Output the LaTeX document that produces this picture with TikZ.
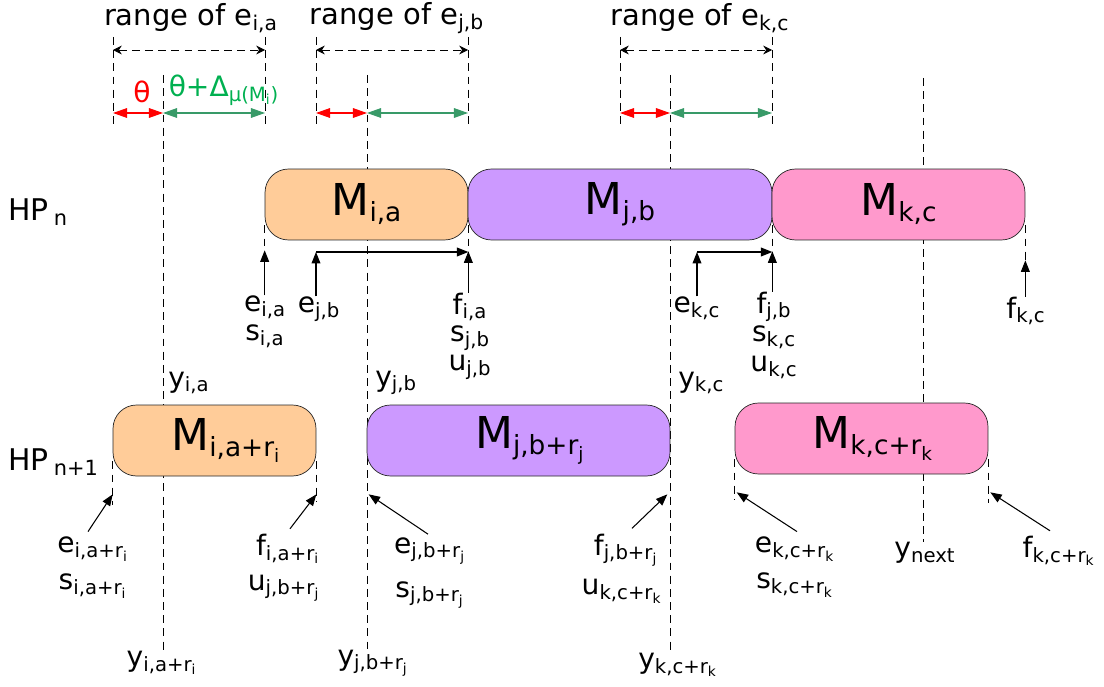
\documentclass[tikz,border=0pt]{standalone}
\usepackage{fontspec}
\setmainfont{DejaVu Sans}
\usetikzlibrary{arrows.meta, positioning}
\usepackage{xcolor}
\definecolor{opOrange}{RGB}{255, 204, 153}
\definecolor{opPurple}{RGB}{204, 153, 255}
\definecolor{opPink}{RGB}{255, 153, 204}
\definecolor{deltaGreen}{RGB}{56, 154, 104}
\definecolor{textGreen}{RGB}{0, 176, 80}
\newcommand{\sbs}[1]{\textsubscript{#1}}
\newcommand{\opsbs}[1]{\raisebox{-0.25ex}{\fontsize{15}{15}\selectfont #1}}

\begin{document}
\begin{tikzpicture}[
        x=0.02cm, y=-0.02cm,
        opNode/.style={rectangle, draw=black!85, fill=#1, rounded corners=0.47cm, minimum height=1.42cm, inner sep=0pt, font=\fontsize{25}{28}\selectfont},
        lblNode/.style={inner sep=0pt, font=\fontsize{16}{18}\selectfont},
        rangeNode/.style={inner sep=0pt, font=\fontsize{16.5}{18}\selectfont},
        hpNode/.style={inner sep=0pt, font=\fontsize{17}{19}\selectfont},
        guideLine/.style={line width=0.5pt, dash pattern=on 4.5pt off 3pt},
        ptrArrow/.style={semithick, -{Triangle[length=6.5pt, width=5pt]}},
        rangeArrow/.style={line width=0.5pt, dash pattern=on 4.5pt off 3pt, {Stealth[length=5pt, width=5pt]}-{Stealth[length=5pt, width=5pt]}},
        thetaArrow/.style={semithick, red, {Triangle[length=8pt, width=5.5pt]}-{Triangle[length=8pt, width=5.5pt]}},
        deltaArrow/.style={semithick, deltaGreen, {Triangle[length=8pt, width=5.5pt]}-{Triangle[length=8pt, width=5.5pt]}}
    ]
        \useasboundingbox (0,0) rectangle (1104,686);

        % ranges of the e values
        \foreach \xx [count=\k] in {113,265,316,468,620,772} {
            \coordinate (rTop\k) at (\xx,37);
            \coordinate (rBot\k) at (\xx,125);
            \coordinate (rA\k) at (\xx,50);
            \coordinate (rB\k) at (\xx,113);
            \draw[guideLine] (rTop\k) -- (rBot\k);
        }
        \node[rangeNode] (rangeI) at (191,18) {range of e\sbs{i,a}};
        \node[rangeNode] (rangeJ) at (397,18) {range of e\sbs{j,b}};
        \node[rangeNode] (rangeK) at (700,18) {range of e\sbs{k,c}};
        \draw[rangeArrow] (rA1) -- (rA2);
        \draw[rangeArrow] (rA3) -- (rA4);
        \draw[rangeArrow] (rA5) -- (rA6);

        % y guides
        \coordinate (yiaTop) at (163,75);
        \coordinate (yjbTop) at (367,75);
        \coordinate (ykcTop) at (670,75);
        \coordinate (ynextTop) at (923,78);
        \coordinate (tm1) at (163,113);
        \coordinate (tm2) at (367,113);
        \coordinate (tm3) at (670,113);
        \node[lblNode] (yiarLbl) at (162,663) {y\sbs{i,a+r\sbs{i}}};
        \node[lblNode] (yjbrLbl) at (373,663) {y\sbs{j,b+r\sbs{j}}};
        \node[lblNode] (ykcrLbl) at (678,665) {y\sbs{k,c+r\sbs{k}}};
        \node[lblNode] (ynextLbl) at (925,553) {y\sbs{next}};
        \draw[guideLine] (yiaTop) -- (yiaTop |- yiarLbl.north);
        \draw[guideLine] (yjbTop) -- (yjbTop |- yjbrLbl.north);
        \draw[guideLine] (ykcTop) -- (ykcTop |- ykcrLbl.north);
        \draw[guideLine] (ynextTop) -- (ynextTop |- ynextLbl.north);
        \node[lblNode, anchor=west] (yiaLbl) at (168,383) {y\sbs{i,a}};
        \node[lblNode, anchor=west] (yjbLbl) at (375,383) {y\sbs{j,b}};
        \node[lblNode, anchor=west] (ykcLbl) at (678,383) {y\sbs{k,c}};

        \draw[thetaArrow] (rB1) -- (tm1);
        \draw[deltaArrow] (tm1) -- (rB2);
        \draw[thetaArrow] (rB3) -- (tm2);
        \draw[deltaArrow] (tm2) -- (rB4);
        \draw[thetaArrow] (rB5) -- (tm3);
        \draw[deltaArrow] (tm3) -- (rB6);
        \node[lblNode, text=red] (thetaLbl) at (142,92) {θ};
        \node[lblNode, text=textGreen] (deltaLbl) at (224,90) {θ+Δ\sbs{μ(M\sbs{i})}};

        % HP_n
        \node[hpNode, anchor=west] (hpN) at (8,212) {HP\,\sbs{n}};
        \node[opNode=opOrange, minimum width=4.06cm] (mia) at (366.5,204.5) {M\opsbs{i,a}};
        \node[opNode=opPurple, minimum width=6.08cm] (mjb) at (620,204.5) {M\opsbs{j,b}};
        \node[opNode=opPink, minimum width=5.06cm] (mkc) at (898.5,204.5) {M\opsbs{k,c}};

        \draw[guideLine] ([yshift=0.3cm]mia.south west) -- ([yshift=-0.44cm]mia.south west);
        \draw[guideLine] ([yshift=0.3cm]mia.south east) -- ([yshift=-0.44cm]mia.south east);
        \draw[guideLine] ([yshift=0.3cm]mjb.south east) -- ([yshift=-0.44cm]mjb.south east);
        \draw[guideLine] ([yshift=0.3cm]mkc.south east) -- ([yshift=-0.44cm]mkc.south east);

        \node[lblNode] (eiaLbl) at (265,307) {e\sbs{i,a}};
        \node[lblNode] (siaLbl) at (265,336) {s\sbs{i,a}};
        \node[lblNode] (ejbLbl) at (319,309) {e\sbs{j,b}};
        \node[lblNode] (fiaLbl) at (470,307) {f\sbs{i,a}};
        \node[lblNode] (sjbLbl) at (470,338) {s\sbs{j,b}};
        \node[lblNode] (ujbLbl) at (470,367) {u\sbs{j,b}};
        \node[lblNode] (ekcLbl) at (697,308) {e\sbs{k,c}};
        \node[lblNode] (fjbLbl) at (774,307) {f\sbs{j,b}};
        \node[lblNode] (skcLbl) at (774,337) {s\sbs{k,c}};
        \node[lblNode] (ukcLbl) at (774,367) {u\sbs{k,c}};
        \node[lblNode] (fkcLbl) at (1026,311) {f\sbs{k,c}};

        \coordinate (ejbTip) at (316,252);
        \coordinate (ekcTip) at (697,252);
        \draw[ptrArrow] (mia.south west |- eiaLbl.north) -- ([yshift=-0.2cm]mia.south west);
        \draw[ptrArrow] (ejbTip |- ejbLbl.north) -- (ejbTip);
        \draw[ptrArrow] (ejbTip) -- (ejbTip -| mia.south east);
        \draw[ptrArrow] (mia.south east |- fiaLbl.north) -- ([yshift=-0.22cm]mia.south east);
        \draw[ptrArrow] (ekcTip |- ekcLbl.north) -- (ekcTip);
        \draw[ptrArrow] (ekcTip) -- (ekcTip -| mjb.south east);
        \draw[ptrArrow] (mjb.south east |- fjbLbl.north) -- ([yshift=-0.22cm]mjb.south east);
        \draw[ptrArrow] (mkc.south east |- fkcLbl.north) -- ([yshift=-0.4cm]mkc.south east);

        % HP_n+1
        \node[hpNode, anchor=west] (hpNext) at (8,462) {HP\,\sbs{n+1}};
        \node[opNode=opOrange, minimum width=4.06cm] (miar) at (214.5,440.5) {\hspace*{0.45cm}M\opsbs{i,a+r\sbs{i}}};
        \node[opNode=opPurple, minimum width=6.06cm] (mjbr) at (518.5,440.5) {\hspace*{0.45cm}M\opsbs{j,b+r\sbs{j}}};
        \node[opNode=opPink, minimum width=5.06cm] (mkcr) at (861.5,438.5) {\hspace*{0.45cm}M\opsbs{k,c+r\sbs{k}}};

        \draw[guideLine] ([yshift=0.3cm]miar.south west) -- ([yshift=-0.58cm]miar.south west);
        \draw[guideLine] ([yshift=0.3cm]miar.south east) -- ([yshift=-0.52cm]miar.south east);
        \draw[guideLine] ([yshift=0.3cm]mkcr.south west) -- ([yshift=-0.52cm]mkcr.south west);
        \draw[guideLine] ([yshift=0.3cm]mkcr.south east) -- ([yshift=-0.58cm]mkcr.south east);

        \node[lblNode] (eiarLbl) at (93,549) {e\sbs{i,a+r\sbs{i}}};
        \node[lblNode] (siarLbl) at (93,586) {s\sbs{i,a+r\sbs{i}}};
        \node[lblNode] (fiarLbl) at (288,549) {f\sbs{i,a+r\sbs{i}}};
        \node[lblNode] (ujbrLbl) at (284,588) {u\sbs{j,b+r\sbs{j}}};
        \node[lblNode] (ejbrLbl) at (430,551) {e\sbs{j,b+r\sbs{j}}};
        \node[lblNode] (sjbrLbl) at (430,595) {s\sbs{j,b+r\sbs{j}}};
        \node[lblNode] (fjbrLbl) at (626,550) {f\sbs{j,b+r\sbs{j}}};
        \node[lblNode] (ukcrLbl) at (622,591) {u\sbs{k,c+r\sbs{k}}};
        \node[lblNode] (ekcrLbl) at (795,549) {e\sbs{k,c+r\sbs{k}}};
        \node[lblNode] (skcrLbl) at (795,585) {s\sbs{k,c+r\sbs{k}}};
        \node[lblNode] (fkcrLbl) at (1059,551) {f\sbs{k,c+r\sbs{k}}};

        \draw[ptrArrow] ([xshift=-0.1cm, yshift=0.1cm]eiarLbl.north) -- ([yshift=-0.36cm]miar.south west);
        \draw[ptrArrow] ([xshift=0.04cm, yshift=0.1cm]fiarLbl.north) -- ([yshift=-0.36cm]miar.south east);
        \draw[ptrArrow] ([xshift=-0.04cm, yshift=0.06cm]ejbrLbl.north) -- ([xshift=0.04cm, yshift=-0.36cm]mjbr.south west);
        \draw[ptrArrow] ([xshift=0.12cm, yshift=0.1cm]fjbrLbl.north) -- ([xshift=-0.06cm, yshift=-0.36cm]mjbr.south east);
        \draw[ptrArrow] ([xshift=0.04cm, yshift=0.1cm]ekcrLbl.north) -- ([xshift=0.04cm, yshift=-0.36cm]mkcr.south west);
        \draw[ptrArrow] ([xshift=-0.18cm, yshift=0.1cm]fkcrLbl.north) -- ([xshift=0.04cm, yshift=-0.36cm]mkcr.south east);
    \end{tikzpicture}
\end{document}
